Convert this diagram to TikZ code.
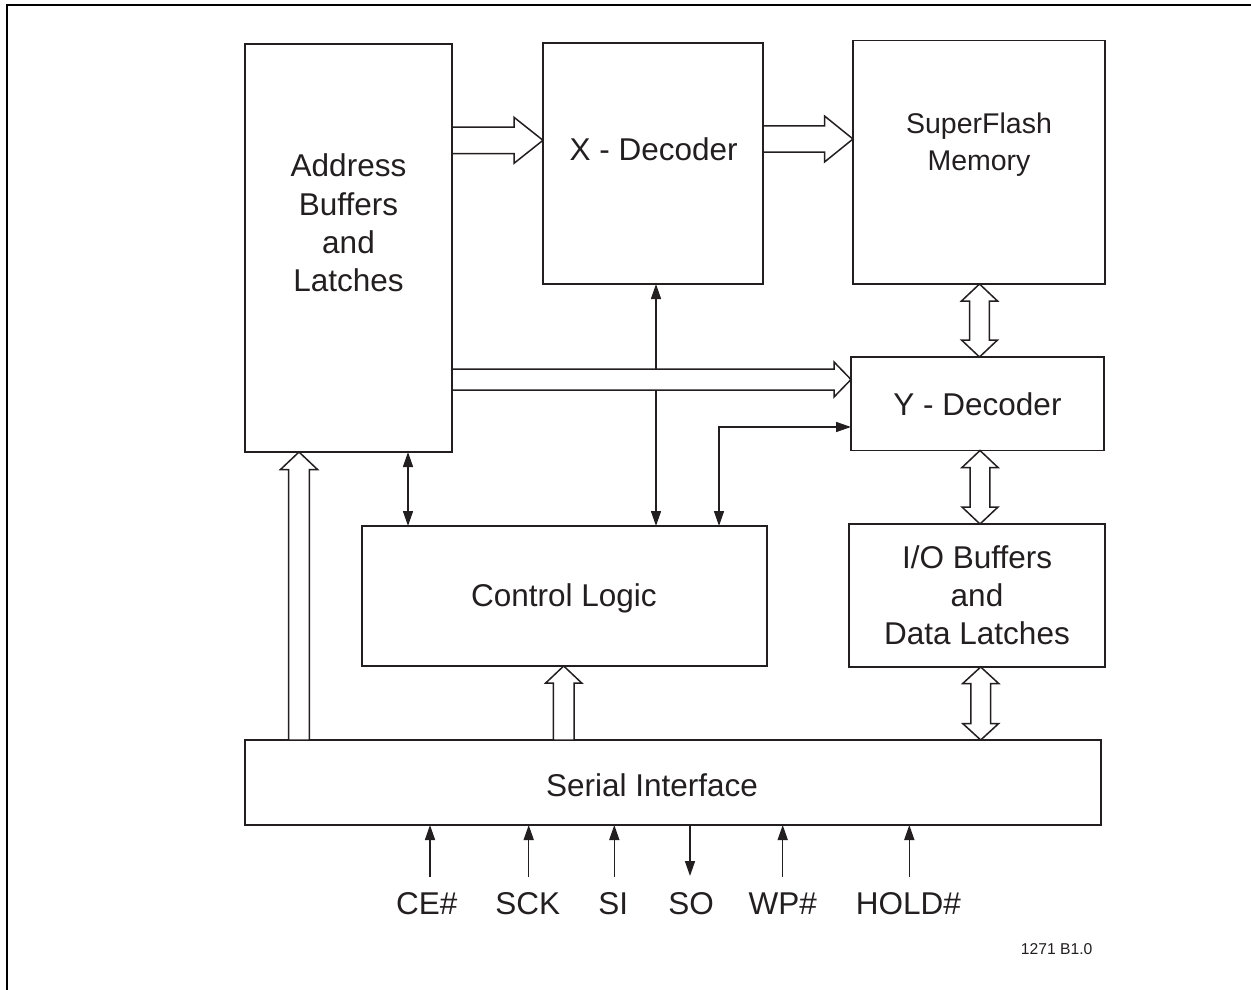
\documentclass[tikz,border=0pt]{standalone}
\usepackage{fontspec}
\setmainfont{Liberation Sans}
\usetikzlibrary{arrows.meta,calc}
\definecolor{ink}{RGB}{35,31,32}
% block arrows: horizontal (start, tip, half shaft, half head, head length)
\newcommand{\blkH}[5]{\draw[blk] let \p1=#1, \p2=#2 in
  (\x1,\y1+#3) -- (\x2-#5,\y1+#3) -- (\x2-#5,\y1+#4) -- (\x2,\y1) --
  (\x2-#5,\y1-#4) -- (\x2-#5,\y1-#3) -- (\x1,\y1-#3) -- cycle;}
% upward block arrow (start below, tip above)
\newcommand{\blkU}[5]{\draw[blk] let \p1=#1, \p2=#2 in
  (\x1-#3,\y1) -- (\x1-#3,\y2-#5) -- (\x1-#4,\y2-#5) -- (\x1,\y2) --
  (\x1+#4,\y2-#5) -- (\x1+#3,\y2-#5) -- (\x1+#3,\y1) -- cycle;}
% vertical double block arrow (top point, bottom point)
\newcommand{\blkD}[5]{\draw[blk] let \p1=#1, \p2=#2 in
  (\x1,\y1) -- (\x1+#4,\y1-#5) -- (\x1+#3,\y1-#5) -- (\x1+#3,\y2+#5) --
  (\x1+#4,\y2+#5) -- (\x1,\y2) -- (\x1-#4,\y2+#5) -- (\x1-#3,\y2+#5) --
  (\x1-#3,\y1-#5) -- (\x1-#4,\y1-#5) -- cycle;}
\begin{document}
\begin{tikzpicture}[x=1pt,y=-1pt,
  box/.style={draw=ink, line width=1.5pt, fill=white, inner sep=0pt, outer sep=0pt},
  txt/.style={text=ink, inner sep=0pt, anchor=base, font=\fontsize{31.5}{38.3}\selectfont},
  blk/.style={draw=ink, line width=1.5pt, fill=white, line join=miter},
  sarr/.style={draw=ink, line width=1.5pt, -{Triangle[length=15pt,width=10pt]}},
  darr/.style={draw=ink, line width=1.5pt, line join=miter, {Triangle[length=15pt,width=10pt]}-{Triangle[length=15pt,width=10pt]}},
  frame/.style={draw=black, line width=2pt}]
\useasboundingbox (0,0) rectangle (1251,990);
\fill[white] (0,0) rectangle (1251,990);
\draw[frame] (7,990) -- (7,5) -- (1251,5);

% boxes
\node[box, minimum width=207pt, minimum height=408pt] (ab) at (348.5,248) {};
\node[box, minimum width=220pt, minimum height=241pt] (xd) at (653,163.5) {};
\node[box, minimum width=252pt, minimum height=243.5pt] (sf) at (979,162.25) {};
\node[box, minimum width=253pt, minimum height=93.5pt] (yd) at (977.5,403.75) {};
\node[box, minimum width=256pt, minimum height=143pt] (io) at (977,595.5) {};
\node[box, minimum width=405pt, minimum height=140pt] (cl) at (564.5,596) {};
\node[box, minimum width=856pt, minimum height=85pt] (ser) at (673,782.5) {};

% texts
\node[txt] (abt) at (348.5,176.7) {\begin{tabular}[t]{@{}c@{}}Address\\Buffers\\and\\Latches\end{tabular}};
\node[txt] (xdt) at (653.7,160) {X - Decoder};
\node[txt, font=\fontsize{28.5}{37.4}\selectfont] (sft) at (979,133.3) {\begin{tabular}[t]{@{}c@{}}SuperFlash\\Memory\end{tabular}};
\node[txt] (ydt) at (977.5,415) {Y - Decoder};
\node[txt] (iot) at (977,568.3) {\begin{tabular}[t]{@{}c@{}}I/O Buffers\\and\\Data Latches\end{tabular}};
\node[txt] (clt) at (564,606.7) {Control Logic};
\node[txt] (sert) at (652,796) {Serial Interface};

% helper coordinates
\coordinate (yA) at (0,140.3);
\coordinate (yB) at (0,139);
\coordinate (yC) at (0,379.5);
\coordinate (xD) at (299,0);
\coordinate (xE) at (563.7,0);
\coordinate (xF) at (979.5,0);
\coordinate (xG) at (980,0);
\coordinate (xH) at (980.7,0);
\coordinate (vX) at (656,0);
\coordinate (vA) at (408,0);
\coordinate (cB) at (719,427);

% thin control connectors
\draw[darr] (vX |- cl.north) -- (vX |- xd.south);
\draw[darr] (vA |- ab.south) -- (vA |- cl.north);
\draw[darr] (cB |- cl.north) |- (cB -| yd.west);

% block arrows
\blkH{(ab.east |- yA)}{(xd.west |- yA)}{13.3pt}{23pt}{29pt}
\blkH{(xd.east |- yB)}{(sf.west |- yB)}{13.2pt}{23pt}{28.5pt}
\blkH{(ab.east |- yC)}{(yd.west |- yC)}{10.5pt}{17.5pt}{17pt}
\blkU{(xD |- ser.north)}{(xD |- ab.south)}{10.4pt}{18.5pt}{17.5pt}
\blkU{(xE |- ser.north)}{(xE |- cl.south)}{10.4pt}{18pt}{17pt}
\blkD{(xF |- sf.south)}{(xF |- yd.north)}{9.8pt}{18pt}{17pt}
\blkD{(xG |- yd.south)}{(xG |- io.north)}{9.8pt}{18pt}{17pt}
\blkD{(xH |- io.south)}{(xH |- ser.north)}{9.8pt}{18pt}{16.5pt}

% signal pins
\coordinate (pCE) at (430,877);
\coordinate (pSCK) at (528.7,877);
\coordinate (pSI) at (614.3,877);
\coordinate (pSO) at (690,876);
\coordinate (pWP) at (782.7,877);
\coordinate (pHO) at (909.3,877);
\draw[sarr] (pCE) -- (pCE |- ser.south);
\draw[sarr] (pSCK) -- (pSCK |- ser.south);
\draw[sarr] (pSI) -- (pSI |- ser.south);
\draw[sarr] (pSO |- ser.south) -- (pSO);
\draw[sarr] (pWP) -- (pWP |- ser.south);
\draw[sarr] (pHO) -- (pHO |- ser.south);

\node[txt] (lCE) at (426.7,914.3) {CE\#};
\node[txt] (lSCK) at (527.7,914.3) {SCK};
\node[txt] (lSI) at (613.3,914.3) {SI};
\node[txt] (lSO) at (691,914.3) {SO};
\node[txt] (lWP) at (782.7,914.3) {WP\#};
\node[txt] (lHO) at (908.3,914.3) {HOLD\#};
\node[txt, font=\fontsize{15.7}{18}\selectfont] (ref) at (1056.7,954.7) {1271 B1.0};
\end{tikzpicture}
\end{document}
